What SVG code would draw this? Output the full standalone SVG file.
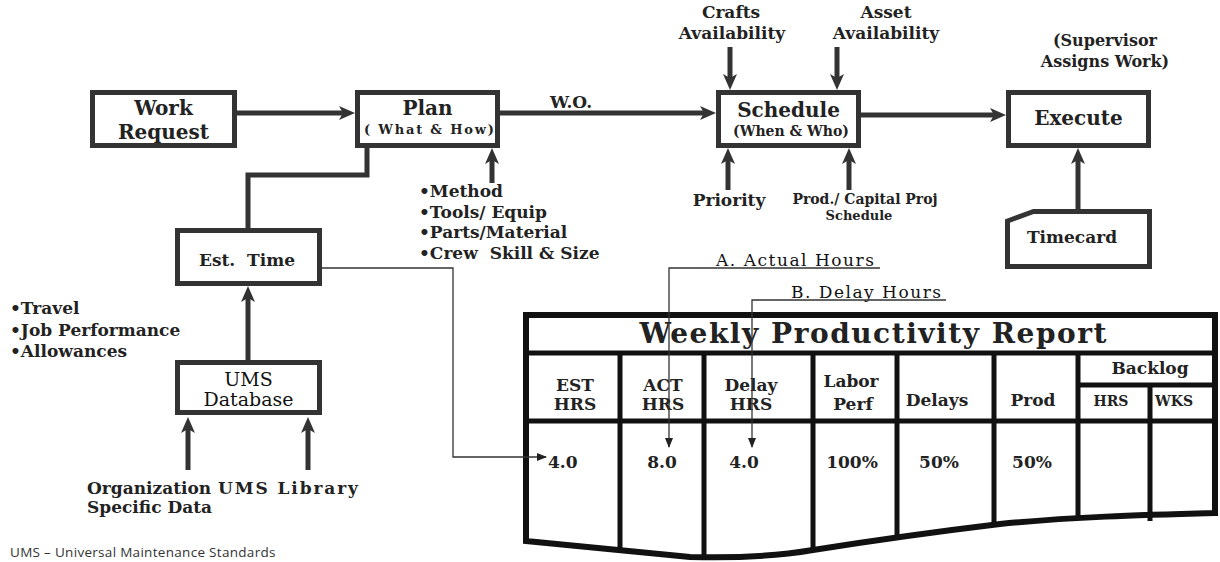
<svg xmlns="http://www.w3.org/2000/svg" width="1220" height="562" viewBox="0 0 1220 562">
  <style>
    .box { fill: #fff; stroke: #333; stroke-width: 5; stroke-linejoin: miter; }
    .flow { fill: none; stroke: #333; stroke-width: 5; stroke-linejoin: miter; }
    .thin { fill: none; stroke: #333; stroke-width: 1.3; }
    .t { font-family: "DejaVu Serif", serif; font-weight: bold; fill: #222; }
    .r { font-family: "DejaVu Serif", serif; font-weight: normal; fill: #111; }
    .grid { fill: none; stroke: #111; stroke-width: 5; }
    .mid { text-anchor: middle; }
    .f13 { font-size: 13px; }
    .f14 { font-size: 14px; }
    .f16 { font-size: 16px; }
    .f17 { font-size: 17px; }
    .f20 { font-size: 20px; }
  </style>
  <defs>
    <marker id="head" markerUnits="userSpaceOnUse" markerWidth="16" markerHeight="14" refX="4" refY="7" orient="auto">
      <path d="M0,0 L16,7 L0,14 L4,7 Z" fill="#333"/>
    </marker>
    <marker id="tip" markerUnits="userSpaceOnUse" markerWidth="10" markerHeight="8" refX="9" refY="4" orient="auto">
      <path d="M0,0 L10,4 L0,8 Z" fill="#222"/>
    </marker>
  </defs>

  <rect width="1220" height="562" fill="#fff"/>

  <!-- process boxes -->
  <g id="work-request">
    <rect class="box" x="92.5" y="92.5" width="142" height="53"/>
    <text class="t f20 mid" x="163.5" y="115">Work</text>
    <text class="t f20 mid" x="163.5" y="139">Request</text>
  </g>
  <g id="plan">
    <rect class="box" x="357.5" y="92.5" width="140" height="53"/>
    <text class="t f20 mid" x="427.5" y="115">Plan</text>
    <text class="t f13 mid" x="429" y="134" textLength="130" lengthAdjust="spacing">( What &amp; How)</text>
  </g>
  <g id="schedule">
    <rect class="box" x="718.5" y="92.5" width="140" height="53"/>
    <text class="t f20 mid" x="788.5" y="117">Schedule</text>
    <text class="t f14 mid" x="791" y="136">(When &amp; Who)</text>
  </g>
  <g id="execute">
    <rect class="box" x="1008.5" y="92.5" width="140" height="53"/>
    <text class="t f20 mid" x="1078.5" y="125">Execute</text>
  </g>
  <g id="timecard">
    <path class="box" d="M1007.5,221 L1033.5,211.5 L1149.5,211.5 L1149.5,266.5 L1007.5,266.5 Z"/>
    <text class="t f17 mid" x="1072" y="243">Timecard</text>
  </g>
  <g id="est-time">
    <rect class="box" x="177.5" y="230.5" width="142" height="53"/>
    <text class="t f17 mid" x="247" y="266" xml:space="preserve">Est.  Time</text>
  </g>
  <g id="ums-database">
    <rect class="box" x="177.5" y="362.5" width="142" height="50"/>
    <text class="r mid" font-size="19" x="248.5" y="386">UMS</text>
    <text class="r mid" font-size="19" x="248.5" y="406">Database</text>
  </g>

  <!-- input and note labels -->
  <g id="labels">
    <text class="t f17 mid" x="731" y="18">Crafts</text>
    <text class="t f17 mid" x="732" y="39">Availability</text>
    <text class="t f17 mid" x="886" y="18">Asset</text>
    <text class="t f17 mid" x="886" y="39">Availability</text>
    <text class="t f16 mid" x="1105" y="46" fill="#333">(Supervisor</text>
    <text class="t f16 mid" x="1105" y="67" fill="#333">Assigns Work)</text>
    <text class="t f17 mid" x="571" y="108">W.O.</text>
    <text class="t f17 mid" x="729" y="206">Priority</text>
    <text class="t f14 mid" x="865" y="204">Prod./ Capital Proj</text>
    <text class="t f13 mid" x="859" y="220">Schedule</text>
    <text class="t f17" x="419" y="197">•Method</text>
    <text class="t f17" x="419" y="218">•Tools/ Equip</text>
    <text class="t f17" x="419" y="238">•Parts/Material</text>
    <text class="t f17" x="419" y="259" xml:space="preserve">•Crew  Skill &amp; Size</text>
    <text class="t f17" x="10" y="314">•Travel</text>
    <text class="t f17" x="10" y="336">•Job Performance</text>
    <text class="t f17" x="10" y="357">•Allowances</text>
    <text class="t f17" x="87" y="494">Organization</text>
    <text class="t f17" x="218" y="494" textLength="140" lengthAdjust="spacing">UMS Library</text>
    <text class="t f17" x="87" y="513">Specific Data</text>
    <text x="10" y="557" font-family="'Open Sans', sans-serif" font-size="13.5" fill="#333" letter-spacing="0.3">UMS – Universal Maintenance Standards</text>
    <text class="r mid" font-size="17" x="795" y="266" textLength="158" lengthAdjust="spacing">A. Actual Hours</text>
    <text class="r mid" font-size="17" x="866" y="298" textLength="150" lengthAdjust="spacing">B. Delay Hours</text>
  </g>

  <!-- weekly productivity report sheet -->
  <g id="report">
    <path d="M526,541 L526,315 L1215,315 L1215,513 C1140,515 1070,517 1000,524 C950,530 870,541 813,550 Q760,559 690,557 Z" fill="#fff" stroke="#111" stroke-width="6" stroke-linejoin="miter"/>
    <text class="t mid" x="873" y="343" font-size="28" fill="#333" textLength="467" lengthAdjust="spacing">Weekly Productivity Report</text>
    <text class="t f17 mid" x="575" y="391">EST</text>
    <text class="t f17 mid" x="575" y="410">HRS</text>
    <text class="t f17 mid" x="663" y="391">ACT</text>
    <text class="t f17 mid" x="663" y="410">HRS</text>
    <text class="t f17 mid" x="751" y="391">Delay</text>
    <text class="t f17 mid" x="751" y="410">HRS</text>
    <text class="t f17 mid" x="851" y="387">Labor</text>
    <text class="t f17 mid" x="853" y="410">Perf</text>
    <text class="t f17 mid" x="937" y="406">Delays</text>
    <text class="t f17 mid" x="1033" y="406">Prod</text>
    <text class="t f17 mid" x="1150" y="374">Backlog</text>
    <text class="t f14 mid" x="1111" y="406">HRS</text>
    <text class="t f14 mid" x="1174" y="406">WKS</text>
    <text class="t f17" x="548" y="468">4.0</text>
    <text class="t f17 mid" x="662" y="468">8.0</text>
    <text class="t f17 mid" x="744" y="468">4.0</text>
    <text class="t f17 mid" x="852" y="468">100%</text>
    <text class="t f17 mid" x="939" y="468">50%</text>
    <text class="t f17 mid" x="1032" y="468">50%</text>
    <line class="grid" x1="526" y1="353" x2="1215" y2="353" stroke-width="6"/>
    <line class="grid" x1="526" y1="421" x2="1215" y2="421"/>
    <line class="grid" x1="1078" y1="385" x2="1215" y2="385"/>
    <line class="grid" x1="620" y1="353" x2="620" y2="551"/>
    <line class="grid" x1="704" y1="353" x2="704" y2="558"/>
    <line class="grid" x1="813" y1="353" x2="813" y2="551"/>
    <line class="grid" x1="897" y1="353" x2="897" y2="540"/>
    <line class="grid" x1="994" y1="353" x2="994" y2="526"/>
    <line class="grid" x1="1078" y1="353" x2="1078" y2="519"/>
    <line class="grid" x1="1150" y1="385" x2="1150" y2="521"/>
  </g>

  <!-- connectors -->
  <g id="connectors">
    <line class="flow" x1="237" y1="113" x2="343" y2="113" marker-end="url(#head)"/>
    <line class="flow" x1="500" y1="113" x2="704" y2="113" marker-end="url(#head)"/>
    <line class="flow" x1="861" y1="115" x2="994" y2="115" marker-end="url(#head)"/>
    <polyline class="flow" points="367,148 367,175 248,175 248,230"/>
    <line class="flow" x1="492" y1="183" x2="492" y2="160" marker-end="url(#head)"/>
    <line class="flow" x1="730" y1="47" x2="730" y2="78" marker-end="url(#head)"/>
    <line class="flow" x1="837" y1="47" x2="837" y2="78" marker-end="url(#head)"/>
    <line class="flow" x1="728" y1="190" x2="728" y2="160" marker-end="url(#head)"/>
    <line class="flow" x1="849" y1="190" x2="849" y2="160" marker-end="url(#head)"/>
    <line class="flow" x1="1078" y1="209" x2="1078" y2="160" marker-end="url(#head)"/>
    <line class="flow" x1="248" y1="360" x2="248" y2="298" marker-end="url(#head)"/>
    <line class="flow" x1="188" y1="470" x2="188" y2="429" marker-end="url(#head)"/>
    <line class="flow" x1="308" y1="470" x2="308" y2="429" marker-end="url(#head)"/>
    <polyline class="thin" points="322,268 453,268 453,457 546,457" marker-end="url(#tip)"/>
    <polyline class="thin" points="880,268 669,268 669,447" marker-end="url(#tip)"/>
    <polyline class="thin" points="946,300 752,300 752,447" marker-end="url(#tip)"/>
  </g>
</svg>
